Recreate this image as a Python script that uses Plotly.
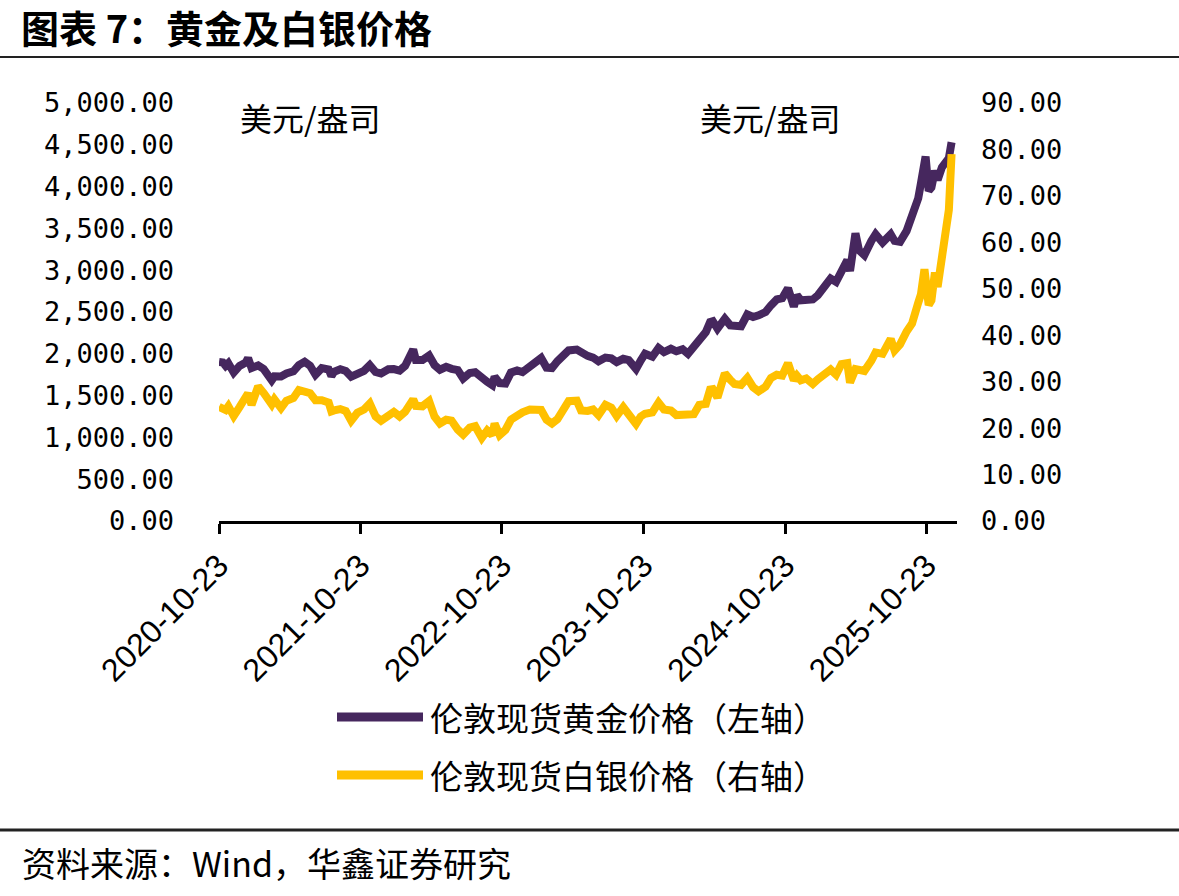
import plotly.graph_objects as go

# ---------------- data ----------------
dates = [
    "2020-10-23", "2020-11-02", "2020-11-09", "2020-11-16", "2020-11-30", "2020-12-15", "2020-12-31",
    "2021-01-06", "2021-01-15", "2021-02-01", "2021-02-15", "2021-03-01", "2021-03-08", "2021-03-15",
    "2021-04-01", "2021-04-15", "2021-05-03", "2021-05-17", "2021-06-01", "2021-06-15", "2021-06-29",
    "2021-07-15", "2021-08-02", "2021-08-09", "2021-08-16", "2021-09-01", "2021-09-15", "2021-09-29",
    "2021-10-15", "2021-11-01", "2021-11-16", "2021-12-01", "2021-12-15",
    "2022-01-03", "2022-01-17", "2022-02-01", "2022-02-15", "2022-03-08", "2022-03-15", "2022-04-01",
    "2022-04-18", "2022-05-02", "2022-05-16", "2022-06-01", "2022-06-15", "2022-07-01", "2022-07-15",
    "2022-08-01", "2022-08-15", "2022-09-01", "2022-09-15", "2022-09-28", "2022-10-04", "2022-10-17",
    "2022-11-01", "2022-11-15", "2022-12-01", "2022-12-15",
    "2023-01-03", "2023-01-17", "2023-02-01", "2023-02-15", "2023-03-01", "2023-03-15", "2023-04-03",
    "2023-04-13", "2023-05-04", "2023-05-15", "2023-06-01", "2023-06-15", "2023-06-29", "2023-07-17",
    "2023-08-01", "2023-08-15", "2023-09-01", "2023-09-15", "2023-10-04", "2023-10-16", "2023-10-27",
    "2023-11-15", "2023-12-01", "2023-12-15",
    "2024-01-02", "2024-01-16", "2024-02-01", "2024-02-15", "2024-03-01", "2024-03-15", "2024-04-01",
    "2024-04-12", "2024-04-19", "2024-05-01", "2024-05-20", "2024-06-03", "2024-06-14", "2024-07-01",
    "2024-07-17", "2024-08-01", "2024-08-15", "2024-09-02", "2024-09-16", "2024-10-01", "2024-10-15",
    "2024-10-30", "2024-11-14", "2024-11-22", "2024-12-02", "2024-12-16",
    "2025-01-02", "2025-01-15", "2025-02-03", "2025-02-17", "2025-03-03", "2025-03-17", "2025-04-01",
    "2025-04-08", "2025-04-22", "2025-05-01", "2025-05-15", "2025-06-02", "2025-06-13", "2025-07-01",
    "2025-07-22", "2025-08-01", "2025-08-15", "2025-09-01", "2025-09-15", "2025-10-01", "2025-10-08",
    "2025-10-17", "2025-10-20", "2025-10-28", "2025-11-04", "2025-11-13", "2025-11-20", "2025-12-01",
    "2025-12-12", "2025-12-19", "2025-12-26",
]

gold_price = [
    1902, 1895, 1855, 1887, 1776, 1855, 1895,
    1950, 1830, 1860, 1818, 1725, 1683, 1730,
    1728, 1765, 1790, 1865, 1905, 1858, 1750,
    1828, 1812, 1735, 1785, 1815, 1795, 1727,
    1768, 1795, 1865, 1782, 1765,
    1815, 1818, 1800, 1855, 2050, 1925, 1925,
    1980, 1865, 1810, 1845, 1820, 1805, 1705,
    1770, 1780, 1700, 1665, 1625, 1725, 1650,
    1645, 1775, 1800, 1780,
    1840, 1910, 1950, 1835, 1830, 1910, 1985,
    2040, 2050, 2015, 1975, 1955, 1910, 1955,
    1945, 1900, 1940, 1925, 1820, 1920, 2000,
    1965, 2070, 2020,
    2060, 2030, 2055, 2000, 2080, 2160, 2260,
    2380, 2390, 2300, 2420, 2340, 2330, 2330,
    2470, 2440, 2460, 2500, 2580, 2650, 2665,
    2785, 2565, 2700, 2640, 2650,
    2650, 2700, 2800, 2900, 2860, 3000, 3120,
    2990, 3440, 3240, 3180, 3350, 3430, 3330,
    3430, 3350, 3340, 3470, 3640, 3860, 4040,
    4250, 4360, 3950, 3990, 4190, 4080, 4230,
    4300, 4340, 4530,
]

silver_price = [
    24.6, 24.0, 23.9, 24.7, 22.6, 24.5, 26.4,
    27.5, 25.0, 29.0, 27.6, 26.3, 25.1, 26.2,
    24.3, 25.9, 26.5, 28.2, 28.0, 27.5, 26.0,
    26.0, 25.5, 23.6, 23.8, 24.1, 23.7, 21.6,
    23.3, 24.0, 25.3, 22.5, 21.6,
    23.0, 23.5, 22.5, 23.5, 26.2, 24.8, 24.7,
    25.8, 22.5, 21.0, 21.8, 21.6, 19.7, 18.6,
    20.1, 20.4, 17.9, 19.5, 18.5, 21.0, 18.5,
    19.6, 21.8, 22.8, 23.4,
    24.0, 23.8, 23.9, 21.8, 21.0, 21.9, 24.0,
    25.8, 25.9, 23.8, 23.7, 24.0, 22.8, 25.0,
    24.4, 22.6, 24.5, 23.0, 20.9, 22.5, 23.1,
    23.4, 25.5, 24.0,
    23.8, 22.8, 22.9, 22.7, 23.0, 25.0, 25.2,
    28.3, 28.4, 26.6, 31.8, 30.4, 29.5, 29.3,
    30.8, 28.8, 27.9, 28.9, 30.8, 31.5, 31.3,
    34.0, 30.3, 31.3, 30.3, 30.7,
    29.5, 30.5, 31.5, 32.6, 31.5, 33.8, 34.0,
    29.8, 32.7, 32.4, 32.3, 34.5, 36.3, 36.0,
    39.2, 36.7, 38.0, 40.8, 42.5, 47.0, 48.8,
    54.2, 52.5, 46.5, 47.5, 53.5, 50.4, 57.5,
    62.0, 67.0, 79.0,
]

assert len(dates) == len(gold_price) == len(silver_price)

tick_dates = ["2020-10-23", "2021-10-23", "2022-10-23", "2023-10-23", "2024-10-23", "2025-10-23"]
tick_labels = ["2020-10-23", "2021-10-23", "2022-10-23", "2023-10-23", "2024-10-23", "2025-10-23"]
left_ticks = [0, 500, 1000, 1500, 2000, 2500, 3000, 3500, 4000, 4500, 5000]
right_ticks = [0, 10, 20, 30, 40, 50, 60, 70, 80, 90]

gold_name = "伦敦现货黄金价格（左轴）"
silver_name = "伦敦现货白银价格（右轴）"
GOLD = "#46275E"
SILVER = "#FFC000"

# ---------------- figure ----------------
fig = go.Figure()
fig.add_trace(go.Scatter(x=dates, y=gold_price, name=gold_name, mode="lines",
                         line=dict(color=GOLD, width=8), yaxis="y", showlegend=False))
fig.add_trace(go.Scatter(x=dates, y=silver_price, name=silver_name, mode="lines",
                         line=dict(color=SILVER, width=8), yaxis="y2", showlegend=False))

W, H = 1179, 896
L, R, T, B = 219, 222, 103, 375
PW, PH = W - L - R, H - T - B


def px(xp):
    return (xp - L) / PW


def py(yp):
    return (H - B - yp) / PH


CJK = "Noto Sans CJK SC"
MONO = "DejaVu Sans Mono"

fig.update_layout(
    width=W, height=H,
    margin=dict(l=L, r=R, t=T, b=B, autoexpand=False),
    paper_bgcolor="white", plot_bgcolor="white",
    font=dict(family=CJK, color="black"),
    xaxis=dict(
        type="date", range=["2020-10-23", "2026-01-09"],
        showgrid=False, zeroline=False,
        showline=True, linecolor="black", linewidth=3,
        ticks="outside", ticklen=10, tickwidth=3, tickcolor="black",
        tickmode="array", tickvals=tick_dates, ticktext=tick_labels,
        tickangle=-45, tickfont=dict(family="Liberation Sans", size=32, color="black"),
    ),
    yaxis=dict(
        range=[0, 5000], tickmode="array", tickvals=left_ticks, tickformat=",.2f",
        showgrid=False, zeroline=False, showline=False, ticks="",
        ticklabelstandoff=44,
        tickfont=dict(family=MONO, size=27, color="black"),
    ),
    yaxis2=dict(
        range=[0, 90], overlaying="y", side="right",
        tickmode="array", tickvals=right_ticks, tickformat=".2f",
        showgrid=False, zeroline=False, showline=False, ticks="",
        ticklabelstandoff=23,
        tickfont=dict(family=MONO, size=27, color="black"),
    ),
)

shapes = []
# title underline
shapes.append(dict(type="line", xref="paper", yref="paper", x0=px(0), x1=px(W), y0=py(57), y1=py(57),
                   line=dict(color="#222222", width=2)))
# source separator
shapes.append(dict(type="line", xref="paper", yref="paper", x0=px(0), x1=px(W), y0=py(830), y1=py(830),
                   line=dict(color="#222222", width=3)))
# legend symbols
for yy, col in [(717, GOLD), (775, SILVER)]:
    shapes.append(dict(type="line", xref="paper", yref="paper", x0=px(337), x1=px(423), y0=py(yy), y1=py(yy),
                       line=dict(color=col, width=9)))
fig.update_layout(shapes=shapes)

ann = []
ann.append(dict(text="<b>图表 7：黄金及白银价格</b>", xref="paper", yref="paper", x=px(20), y=py(27),
                xanchor="left", yanchor="middle", showarrow=False, borderpad=0,
                font=dict(family=CJK, size=38, color="black")))
ann.append(dict(text="美元/盎司", xref="paper", yref="paper", x=px(238), y=py(117),
                xanchor="left", yanchor="middle", showarrow=False,
                font=dict(family=CJK, size=32, color="black")))
ann.append(dict(text="美元/盎司", xref="paper", yref="paper", x=px(698), y=py(117),
                xanchor="left", yanchor="middle", showarrow=False,
                font=dict(family=CJK, size=32, color="black")))
for yy, name in [(717, gold_name), (775, silver_name)]:
    ann.append(dict(text=name, xref="paper", yref="paper", x=px(428), y=py(yy),
                    xanchor="left", yanchor="middle", showarrow=False,
                    font=dict(family=CJK, size=33, color="black")))
ann.append(dict(text="资料来源：Wind，华鑫证券研究", xref="paper", yref="paper", x=px(20), y=py(862),
                xanchor="left", yanchor="middle", showarrow=False,
                font=dict(family=CJK, size=34, color="black")))
fig.update_layout(annotations=ann)

fig.write_html("out.html")
